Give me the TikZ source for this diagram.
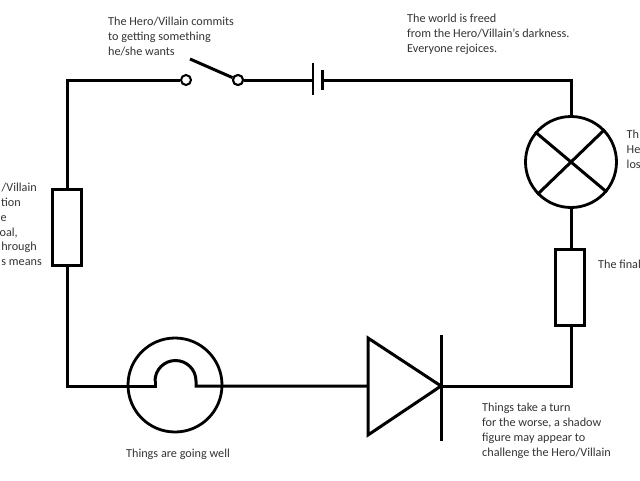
\documentclass[tikz,border=0pt]{standalone}
\usepackage{fontspec}
\setmainfont{Carlito}
\usepackage{xcolor}
\usetikzlibrary{calc,positioning}
\definecolor{txtgray}{HTML}{333333}
\tikzset{
    wire/.style={line width=3pt, line join=miter},
    resistor/.style={rectangle, draw, line width=3pt, fill=white, minimum width=29pt, minimum height=76pt, inner sep=0pt},
    bigdisc/.style={circle, draw, line width=2.8pt, inner sep=0pt},
    contact/.style={circle, draw, line width=2pt, fill=white, minimum size=10pt, inner sep=0pt},
    story/.style={font=\fontsize{12.2}{15}\selectfont, text=txtgray, align=left, anchor=north west, inner sep=0pt},
    cut/.style={font=\fontsize{12.2}{15}\selectfont, text=txtgray, anchor=base east, inner sep=0pt}
}
\begin{document}
\begin{tikzpicture}[x=1pt, y=-1pt]
    % Parameters
    \def\xLeft{67}
    \def\xRight{571}
    \def\yTop{80}
    \def\yBot{386}

    \useasboundingbox (0,0) rectangle (640,480);

    % Components
    \node[resistor] (RL) at (\xLeft, 227.5) {};
    \node[resistor] (RR) at (\xRight-1, 287) {};
    \node[bigdisc, minimum size=91pt] (lamp) at (\xRight, 162) {};
    \node[bigdisc, minimum size=94pt] (heater) at (175, 385) {};
    \node[contact] (SA) at (186, \yTop) {};
    \node[contact] (SB) at (238, \yTop) {};
    \coordinate (lever) at (190, 59);
    \coordinate (plateA) at (313, \yTop);
    \coordinate (plateB) at (322, \yTop);
    \coordinate (HL) at (155, 381);
    \coordinate (HR) at (196, 381);
    \coordinate (diodeA) at (368, 338);
    \coordinate (diodeB) at (368, 435);
    \coordinate (diodeC) at (441, \yBot);

    % Wires
    \draw[wire] (SA.west) -| (RL.north);
    \draw[wire] (RL.south) |- (HL |- 0,\yBot) -- (HL);
    \draw[wire] (HL) arc[start angle=180, end angle=360, radius=20.5] -- (HR |- 0,\yBot) -- (diodeA |- 0,\yBot);
    \draw[wire] (SB.east) -- (plateA);
    \draw[wire] (plateB) -| (lamp.north);
    \draw[wire] (lamp.south) -- (lamp.south |- RR.north);
    \draw[wire] (lamp.south |- RR.south) |- (diodeC);

    % Switch lever
    \draw[wire] (lever) -- (SB);
    \node[contact] at (SB) {};

    % Battery
    \draw[line width=1.8pt] ($(plateA)+(0,-17)$) -- ($(plateA)+(0,15)$);
    \draw[line width=3pt] ($(plateB)+(0,-10)$) -- ($(plateB)+(0,10)$);

    % Lamp cross
    \draw[wire] (lamp.140) -- (lamp.-40);
    \draw[wire] (lamp.44) -- (lamp.224);

    % Diode
    \draw[wire] (diodeA) -- (diodeB) -- (diodeC) -- cycle;
    \draw[wire] (441, 335) -- (441, 441);

    % Labels
    \node[story] (commit) at (108, 16.5) {The Hero/Villain commits\\to getting something\\he/she wants};
    \node[story] (freed) at (407, 14) {The world is freed\\from the Hero/Villain's darkness.\\Everyone rejoices.};
    \node[story] (well) at (126, 449) {Things are going well};
    \node[story] (turn) at (482, 403) {Things take a turn\\for the worse, a shadow\\figure may appear to\\challenge the Hero/Villain};
    \node[story] (lampnote) at (626.5, 130) {Th\\He\\los};
    \node[story] (finalnote) at (598, 260) {The final};

    % Left label, cut off by the page edge
    \foreach \xEnd/\yBase/\txt [count=\i] in {37/191/{/Villain}, 21/206/tion, 7/221/e, 18/236/{oal,}, 37/250/hrough, 42/265/s means} {
        \node[cut] (cutline\i) at (\xEnd, \yBase) {\txt};
    }
\end{tikzpicture}
\end{document}
